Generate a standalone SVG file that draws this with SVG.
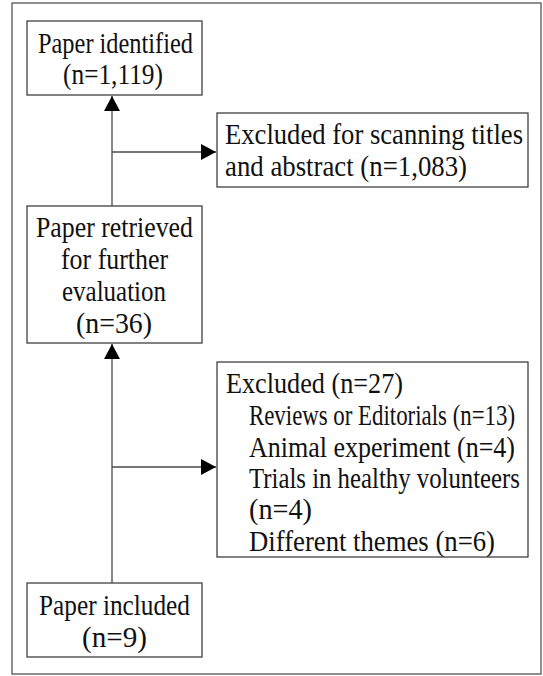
<svg xmlns="http://www.w3.org/2000/svg" width="543" height="676" viewBox="0 0 543 676">
<style>
.box{fill:#fff;stroke:#404040;stroke-width:1.3}
.ln{fill:none;stroke:#4a4a4a;stroke-width:1.3}
text{font-family:"Liberation Serif","DejaVu Serif",serif;font-size:29px;fill:#111}
</style>
<defs>
<marker id="ah" markerUnits="userSpaceOnUse" markerWidth="16" markerHeight="16" refX="15" refY="8" orient="auto">
<path d="M0,0 L15,8 L0,16 z" fill="#000"/>
</marker>
</defs>
<rect x="12" y="3" width="529" height="671" fill="#fff" stroke="#555" stroke-width="1.3"/>
<g id="connectors">
<line class="ln" x1="112" y1="206" x2="112" y2="96" marker-end="url(#ah)"/>
<line class="ln" x1="112" y1="152" x2="216" y2="152" marker-end="url(#ah)"/>
<line class="ln" x1="112" y1="583" x2="112" y2="344" marker-end="url(#ah)"/>
<line class="ln" x1="112" y1="467" x2="216" y2="467" marker-end="url(#ah)"/>
</g>
<g id="identified">
<rect class="box" x="27" y="21" width="175" height="74"/>
<text x="38" y="53" textLength="155" lengthAdjust="spacingAndGlyphs">Paper identified</text>
<text x="63" y="84" textLength="100" lengthAdjust="spacingAndGlyphs">(n=1,119)</text>
</g>
<g id="excluded1">
<rect class="box" x="217" y="113" width="311" height="74"/>
<text x="225" y="144" textLength="298" lengthAdjust="spacingAndGlyphs">Excluded for scanning titles</text>
<text x="225" y="176" textLength="242" lengthAdjust="spacingAndGlyphs">and abstract (n=1,083)</text>
</g>
<g id="retrieved">
<rect class="box" x="27" y="206" width="175" height="137"/>
<text x="36" y="237" textLength="157" lengthAdjust="spacingAndGlyphs">Paper retrieved</text>
<text x="61" y="269" textLength="107" lengthAdjust="spacingAndGlyphs">for further</text>
<text x="62" y="301" textLength="104" lengthAdjust="spacingAndGlyphs">evaluation</text>
<text x="76" y="333" textLength="76" lengthAdjust="spacingAndGlyphs">(n=36)</text>
</g>
<g id="excluded2">
<rect class="box" x="217" y="362" width="311" height="195"/>
<text x="226" y="393" textLength="177" lengthAdjust="spacingAndGlyphs">Excluded (n=27)</text>
<text x="249" y="425" textLength="266" lengthAdjust="spacingAndGlyphs">Reviews or Editorials (n=13)</text>
<text x="249" y="457" textLength="266" lengthAdjust="spacingAndGlyphs">Animal experiment (n=4)</text>
<text x="249" y="488" textLength="271" lengthAdjust="spacingAndGlyphs">Trials in healthy volunteers</text>
<text x="249" y="519" textLength="63" lengthAdjust="spacingAndGlyphs">(n=4)</text>
<text x="249" y="551" textLength="246" lengthAdjust="spacingAndGlyphs">Different themes (n=6)</text>
</g>
<g id="included">
<rect class="box" x="27" y="583" width="175" height="74"/>
<text x="39" y="615" textLength="151" lengthAdjust="spacingAndGlyphs">Paper included</text>
<text x="82" y="647" textLength="65" lengthAdjust="spacingAndGlyphs">(n=9)</text>
</g>
</svg>
